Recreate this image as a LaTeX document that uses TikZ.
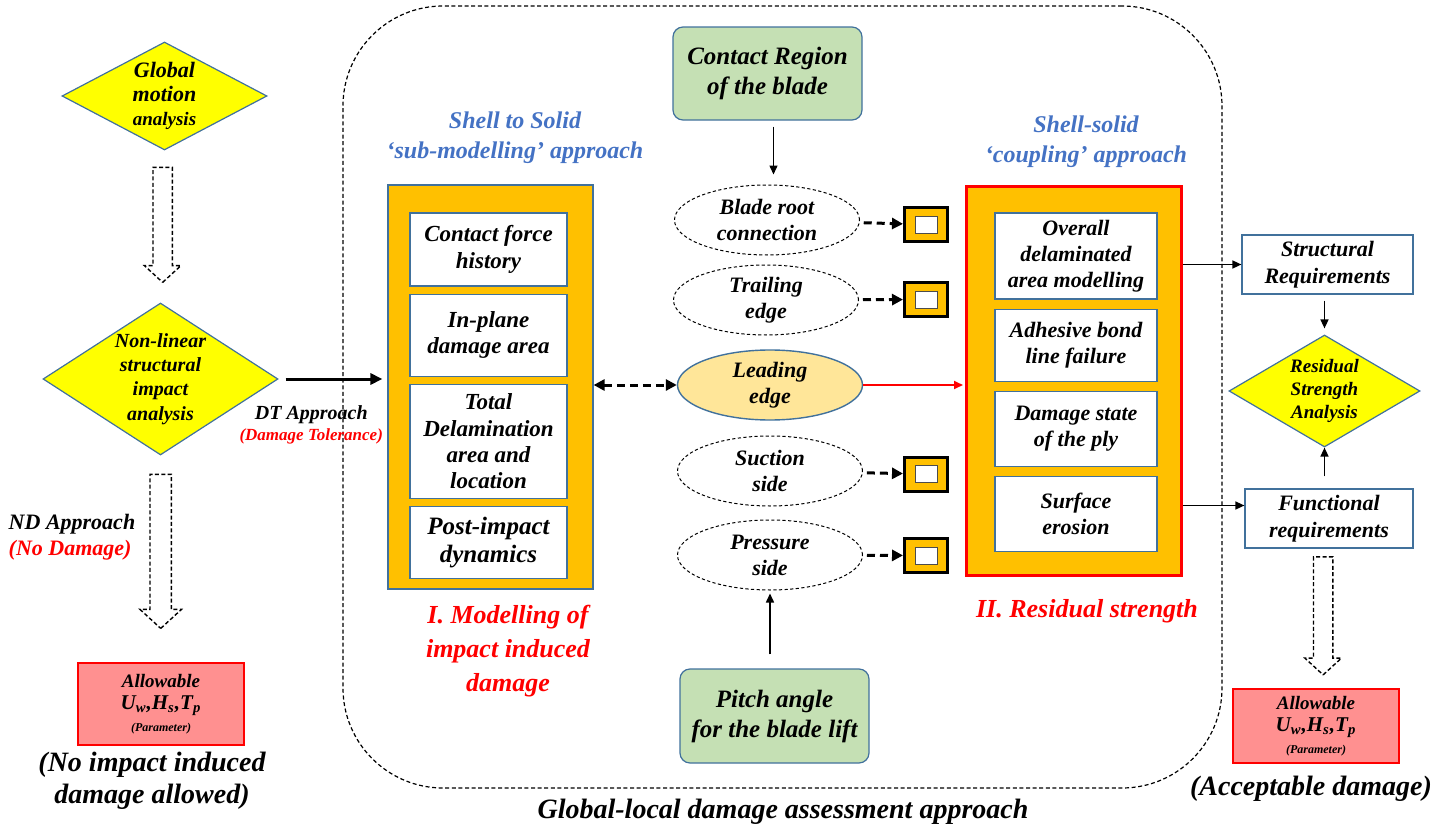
\documentclass[tikz,border=0pt]{standalone}
\usepackage{fontspec}
\setmainfont{Liberation Serif}
\usepackage{xcolor}
\usepackage{tikz}
\usetikzlibrary{shapes.geometric,shapes.arrows,arrows.meta,positioning}
\definecolor{cOrange}{HTML}{FFC000}
\definecolor{cYellow}{HTML}{FFFF00}
\definecolor{cGreen}{HTML}{C5E0B4}
\definecolor{cLead}{HTML}{FFE699}
\definecolor{cPink}{HTML}{FF9090}
\definecolor{cBord}{HTML}{41719C}
\definecolor{cBlue}{HTML}{4472C4}
\tikzset{
  outline/.style={rectangle, rounded corners=50pt, draw=black, line width=0.6pt,
                  dash pattern=on 2pt off 1.3pt, inner sep=0pt},
  diam/.style   ={diamond, draw=cBord, line width=0.6pt, fill=cYellow, align=center,
                  inner sep=-3pt, font=\bfseries\itshape\fontsize{10}{12.2}\selectfont},
  hollow/.style ={single arrow, draw=black, line width=0.7pt, dash pattern=on 2pt off 1.2pt,
                  fill=white, rotate=-90, inner xsep=0pt, inner ysep=4.5pt,
                  single arrow head extend=4.25pt, single arrow tip angle=95},
  allow/.style  ={rectangle, draw=red, line width=0.8pt, fill=cPink, align=center,
                  minimum width=83pt, inner sep=1pt, font=\bfseries\itshape\fontsize{9.5}{11}\selectfont},
  big/.style    ={align=center, font=\bfseries\itshape\fontsize{14}{16}\selectfont},
  hold/.style   ={rectangle, draw=cBord, line width=0.6pt, fill=cOrange},
  item/.style   ={rectangle, draw=cBord, line width=0.6pt, fill=white, align=center,
                  minimum width=78.5pt, inner sep=1pt, font=\bfseries\itshape\fontsize{11.5}{13.2}\selectfont},
  zone/.style   ={ellipse, draw=black, line width=0.5pt, dash pattern=on 1.6pt off 1.2pt,
                  align=center, inner sep=0pt, minimum width=92.5pt, minimum height=35pt,
                  font=\bfseries\itshape\fontsize{11}{13}\selectfont},
  sq/.style     ={rectangle, draw=black, line width=1.5pt, fill=cOrange, inner sep=0pt,
                  minimum width=21.5pt, minimum height=17pt,
                  path picture={\draw[draw=black!70, fill=white, line width=0.4pt]
                    ([xshift=-5.5pt,yshift=-4.25pt]path picture bounding box.center) rectangle
                    ([xshift=5.5pt,yshift=4.25pt]path picture bounding box.center);}},
  region/.style ={rectangle, rounded corners=5pt, draw=cBord, line width=0.6pt, fill=cGreen,
                  align=center, minimum width=94.5pt, minimum height=46.5pt,
                  font=\bfseries\itshape\fontsize{12.5}{15}\selectfont},
  req/.style    ={rectangle, draw=cBord, line width=0.6pt, fill=white, align=center,
                  minimum height=29.5pt, inner sep=1pt, font=\bfseries\itshape\fontsize{11}{13.5}\selectfont},
  ttl/.style    ={text=cBlue, align=center, font=\bfseries\itshape\fontsize{12}{15}\selectfont},
  part/.style   ={text=red, align=center, font=\bfseries\itshape\fontsize{13}{17}\selectfont},
  lbl/.style    ={font=\bfseries\itshape\fontsize{11}{13}\selectfont},
  arr/.style    ={-{Triangle[length=4.5pt,width=4pt]}, line width=0.75pt},
  thk/.style    ={-{Triangle[length=6pt,width=5.5pt]}, line width=1.5pt},
  dsh/.style    ={-{Triangle[length=5.5pt,width=5.5pt]}, line width=1.5pt, dash pattern=on 4pt off 2.5pt},
}
\begin{document}
\begin{tikzpicture}[x=0.5pt, y=-0.5pt]
  \useasboundingbox (0,0) rectangle (1448,830);
  \node[outline, minimum width=439.5pt, minimum height=391pt] (frame) at (782.5,397) {};
  \node[big] (glob) at (783,812) {Global-local damage assessment approach};

  \node[diam, aspect=1.9, minimum width=102.5pt, minimum height=54pt] (gm) at (164.5,96)
    {\fontsize{11}{12.5}\selectfont Global\\\fontsize{11}{12.5}\selectfont motion\\\fontsize{9.5}{11}\selectfont analysis};
  \node[diam, aspect=1.55, minimum width=117.5pt, minimum height=76pt] (nl) at (160.5,379)
    {Non-linear\\structural\\impact\\analysis};
  \node[allow, minimum height=41pt] (al) at (161,704)
    {Allowable\\\fontsize{10.5}{11.5}\selectfont U\textsubscript{w},H\textsubscript{s},T\textsubscript{p}\\\fontsize{6}{9}\selectfont(Parameter)};
  \node[big] (nodmg) at (152,781) {(No impact induced\\damage allowed)};
  \node[lbl, align=left] (nd) at (72,537) {ND Approach\\{\color{red}(No Damage)}};
  \path (gm.south) -- node[hollow, pos=0.46, minimum height=57.5pt] {} (nl.north);
  \path (nl.south) -- node[hollow, pos=0.44, minimum height=77pt, inner ysep=5pt,
    single arrow head extend=5pt] {} (al.north);

  \node[hold, minimum width=102.5pt, minimum height=202pt] (lbox) at (490.5,387) {};
  \node[item, minimum height=36.5pt] (c1) at (488.5,249.5) {Contact force\\history};
  \node[item, minimum height=41pt, below=3.5pt of c1] (c2) {In-plane\\damage area};
  \node[item, minimum height=57pt, below=3.5pt of c2] (c3) {Total\\Delamination\\area and\\location};
  \node[item, minimum height=36pt, below=3.5pt of c3, font=\bfseries\itshape\fontsize{12.5}{14}\selectfont] (c4)
    {Post-impact\\dynamics};
  \node[ttl] (t1) at (515,138) {Shell to Solid\\`sub-modelling' approach};
  \node[part] (p1) at (508,651) {I. Modelling of\\impact induced\\damage};

  \draw[thk, shorten <=3.5pt, shorten >=2.5pt] (nl.east) --
    node[pos=0.3, below=9pt, lbl, align=center, font=\bfseries\itshape\fontsize{10}{10.5}\selectfont]
    {DT Approach\\{\color{red}\fontsize{8.5}{10}\selectfont(Damage Tolerance)}} (nl.east -| lbox.west);

  \node[region] (cr) at (767.5,73.5) {Contact Region\\of the blade};
  \node[zone] (root) at (767,220) {Blade root\\connection};
  \node[zone] (trail) at (766,300) {Trailing\\edge};
  \node[zone, draw=cBord, solid, fill=cLead, line width=0.7pt] (lead) at (770,385) {Leading\\edge};
  \node[zone] (suct) at (770,471) {Suction\\side};
  \node[zone] (press) at (770,555) {Pressure\\side};
  \node[region, minimum height=47pt] (pitch) at (774.5,716) {Pitch angle\\for the blade lift};
  \node[sq] (s1) at (926,224.5) {};
  \node[sq] (s2) at (926,299.5) {};
  \node[sq] (s3) at (926,474) {};
  \node[sq] (s4) at (926,555.5) {};
  \foreach \a/\b in {root/s1,trail/s2,suct/s3,press/s4}
    \draw[dsh, shorten <=2pt] (\a) -- (\b);
  \draw[arr, shorten <=3pt, shorten >=5pt] ([xshift=3pt]cr.south) -- ([xshift=3pt]cr.south |- root.north);
  \draw[arr, shorten <=7pt, shorten >=1.5pt] (press.south |- pitch.north) -- (press.south);
  \draw[dsh, {Triangle[length=5.5pt,width=5.5pt]}-{Triangle[length=5.5pt,width=5.5pt]}]
    (lbox.east |- lead.west) -- (lead.west);

  \node[hold, draw=red, line width=1.5pt, minimum width=107.5pt, minimum height=194.5pt] (rbox) at (1074,381) {};
  \node[item, minimum width=81pt, minimum height=43pt, font=\bfseries\itshape\fontsize{11}{13}\selectfont] (r1)
    at (1076,256) {Overall\\delaminated\\area modelling};
  \node[item, minimum width=81pt, minimum height=36pt, below=4.5pt of r1, font=\bfseries\itshape\fontsize{11}{13}\selectfont] (r2)
    {Adhesive bond\\line failure};
  \node[item, minimum width=81pt, minimum height=37.5pt, below=4.5pt of r2, font=\bfseries\itshape\fontsize{11}{13}\selectfont] (r3)
    {Damage state\\of the ply};
  \node[item, minimum width=81pt, minimum height=37.5pt, below=4.5pt of r3, font=\bfseries\itshape\fontsize{11}{13}\selectfont] (r4)
    {Surface\\erosion};
  \node[ttl] (t2) at (1086,142) {Shell-solid\\`coupling' approach};
  \node[part] (p2) at (1087,611) {II. Residual strength};
  \draw[arr, red, line width=1pt, shorten >=1pt] (lead.east) -- (lead.east -| rbox.west);

  \node[req, minimum width=85.5pt] (struct) at (1327.5,264.5) {Structural\\Requirements};
  \node[req, minimum width=84pt] (func) at (1329,518.5) {Functional\\requirements};
  \node[diam, aspect=1.7, minimum width=95.5pt, minimum height=56pt,
    font=\bfseries\itshape\fontsize{9.5}{11.5}\selectfont] (rsa) at (1324.5,391) {Residual\\Strength\\Analysis};
  \node[allow, minimum height=37pt] (ar) at (1316,726)
    {Allowable\\\fontsize{10.5}{11}\selectfont U\textsubscript{w},H\textsubscript{s},T\textsubscript{p}\\\fontsize{6}{8.5}\selectfont(Parameter)};
  \node[big] (accept) at (1311,789) {(Acceptable damage)};
  \draw[arr] (rbox.east |- struct.west) -- (struct.west);
  \draw[arr] ([yshift=6.5pt]func.west -| rbox.east) -- ([yshift=6.5pt]func.west);
  \draw[arr, shorten <=3pt, shorten >=3pt] (rsa.north |- struct.south) -- (rsa.north);
  \draw[arr, shorten <=6pt] (rsa.south |- func.north) -- (rsa.south);
  \path (func.south) -- node[hollow, pos=0.45, minimum height=59pt] {} (ar.north);
\end{tikzpicture}
\end{document}
